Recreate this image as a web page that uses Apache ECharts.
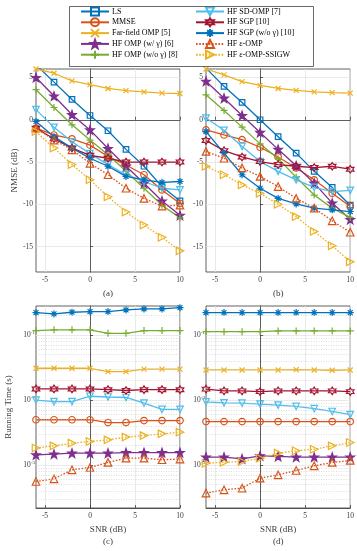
<!DOCTYPE html>
<html>
<head>
<meta charset="utf-8">
<script src="https://cdn.jsdelivr.net/npm/echarts@6/dist/echarts.min.js"></script>
<style>
html, body { margin: 0; padding: 0; background: #fff; }
#main { width: 357px; height: 551px; }
</style>
</head>
<body>
<div id="main"></div>
<script>
// SNR points (dB)
const snr = [-6, -4, -2, 0, 2, 4, 6, 8, 10];
const xTicks = [-5, 0, 5, 10];
const nmseTicks = [-15, -10, -5, 0, 5];
const timeTicks = [0.001, 0.01, 0.1];

// (a) NMSE (dB)
const lsA = [6.5, 4.45, 2.4, 0.5, -1.3, -3.5, -5.5, -7.9, -9.6];
const mmseA = [-1.0, -1.8, -2.25, -3.0, -4.35, -5.35, -6.5, -8.3, -9.9];
const farA = [6.0, 5.5, 4.6, 4.15, 3.7, 3.45, 3.3, 3.15, 3.1];
const ompGA = [5.0, 2.8, 0.6, -1.2, -3.4, -5.5, -7.5, -9.6, -11.3];
const ompA = [3.55, 1.45, -0.6, -2.4, -4.15, -6.1, -8.1, -10.1, -11.6];
const sdA = [1.2, -0.9, -2.6, -4.0, -5.3, -6.5, -7.3, -8.1, -8.3];
const sgpA = [-1.0, -2.25, -3.35, -4.2, -4.55, -5.0, -5.0, -5.0, -5.0];
const sgpNA = [-0.2, -2.0, -3.35, -4.55, -5.5, -6.7, -7.1, -7.4, -7.3];
const epsA = [-1.0, -2.4, -3.55, -5.15, -6.5, -8.1, -9.3, -10.2, -10.1];
const ssigwA = [-1.4, -3.35, -5.3, -7.1, -9.1, -10.9, -12.45, -13.9, -15.5];

// (b) NMSE (dB)
const lsB = [6.1, 3.95, 2.05, 0, -2.0, -3.95, -6.1, -8.0, -10.1];
const mmseB = [-1.2, -1.8, -2.35, -3.25, -4.4, -5.7, -7.1, -8.7, -10.25];
const farB = [6.0, 5.3, 4.5, 4.06, 3.7, 3.47, 3.3, 3.2, 3.15];
const ompGB = [4.55, 2.55, 0.5, -1.5, -3.5, -5.45, -7.5, -9.85, -11.8];
const ompB = [2.95, 1.1, -0.87, -2.85, -4.6, -6.8, -8.9, -10.45, -11.55];
const sdB = [0.2, -1.25, -3.15, -4.95, -6.1, -7.1, -8.0, -8.5, -8.35];
const sgpB = [-2.45, -3.65, -4.4, -4.95, -5.3, -5.5, -5.65, -5.5, -5.85];
const sgpNB = [-1.4, -3.95, -6.5, -8.1, -9.3, -9.95, -10.45, -10.65, -10.85];
const epsB = [-3.75, -4.55, -5.7, -6.7, -7.9, -9.3, -10.45, -11.95, -13.3];
const ssigwB = [-5.5, -6.5, -7.7, -8.7, -10.0, -11.45, -13.2, -14.9, -16.8];

// (c) running time (s)
const mmseC = [0.0050, 0.0050, 0.0050, 0.0050, 0.00452, 0.00452, 0.00485, 0.00485, 0.00485];
const farC = [0.031, 0.031, 0.031, 0.031, 0.0275, 0.0275, 0.030, 0.030, 0.030];
const ompGC = [0.00144, 0.00148, 0.00153, 0.00153, 0.00153, 0.00156, 0.00156, 0.00156, 0.00156];
const ompC = [0.118, 0.121, 0.121, 0.121, 0.107, 0.107, 0.118, 0.118, 0.118];
const sdC = [0.0100, 0.0095, 0.0095, 0.0115, 0.0112, 0.0110, 0.0090, 0.0072, 0.0072];
const sgpC = [0.0149, 0.0149, 0.0149, 0.0149, 0.0145, 0.0141, 0.0145, 0.0145, 0.0145];
const sgpNC = [0.223, 0.213, 0.226, 0.231, 0.231, 0.245, 0.254, 0.254, 0.266];
const epsC = [0.00056, 0.000615, 0.000847, 0.00092, 0.0011, 0.00128, 0.00128, 0.00121, 0.00124];
const ssigwC = [0.00183, 0.00198, 0.00218, 0.00231, 0.00245, 0.0027, 0.00285, 0.00303, 0.00322];

// (d) running time (s)
const mmseD = [0.00469, 0.00469, 0.00469, 0.00469, 0.00469, 0.00469, 0.00469, 0.00469, 0.00469];
const farD = [0.0292, 0.0292, 0.0292, 0.0292, 0.0292, 0.0295, 0.0292, 0.0289, 0.0292];
const ompGD = [0.00133, 0.00133, 0.00125, 0.00139, 0.00136, 0.00133, 0.00133, 0.00133, 0.00133];
const ompD = [0.1135, 0.1135, 0.1135, 0.1135, 0.1165, 0.1165, 0.1165, 0.1165, 0.1165];
const sdD = [0.0094, 0.0091, 0.0090, 0.0087, 0.0084, 0.0080, 0.0074, 0.0067, 0.0060];
const sgpD = [0.0148, 0.0139, 0.0139, 0.01355, 0.0139, 0.0139, 0.0139, 0.0139, 0.01355];
const sgpND = [0.223, 0.223, 0.223, 0.223, 0.223, 0.223, 0.223, 0.223, 0.223];
const epsD = [0.000371, 0.000417, 0.000443, 0.00063, 0.00071, 0.000826, 0.000975, 0.0011, 0.00118];
const ssigwD = [0.00107, 0.00111, 0.00114, 0.00128, 0.00153, 0.00166, 0.00176, 0.00198, 0.00223];

const legendLeft = ['LS', 'MMSE', 'Far-field OMP [5]', 'HF OMP (w/ γ) [6]', 'HF OMP (w/o γ) [8]'];
const legendRight = ['HF SD-OMP [7]', 'HF SGP [10]', 'HF SGP (w/o γ) [10]', 'HF ε-OMP', 'HF ε-OMP-SSIGW'];

const FONT = 'Liberation Serif';
const AX = '#3a3a3a';

// marker shapes
function starPath(n, rIn) {
    let d = '';
    for (let i = 0; i < 2 * n; i++) {
        const r = i % 2 ? rIn : 10;
        const a = Math.PI * i / n - Math.PI / 2;
        d += (i ? 'L' : 'M') + (10 + r * Math.cos(a)).toFixed(2) + ',' + (10 + r * Math.sin(a)).toFixed(2);
    }
    return 'path://' + d + 'Z';
}

const look = {
    'LS': { c: '#0072BD', sym: 'rect', size: 5.5 },
    'MMSE': { c: '#D95319', sym: 'circle', size: 6.5 },
    'Far-field OMP [5]': { c: '#EDB120', sym: 'path://M0,0L10,10M0,10L10,0', size: 5 },
    'HF OMP (w/ γ) [6]': { c: '#7E2F8E', sym: starPath(5, 4), size: 8.5, fill: true },
    'HF OMP (w/o γ) [8]': { c: '#77AC30', sym: 'path://M0,5L10,5M5,0L5,10', size: 7 },
    'HF SD-OMP [7]': { c: '#4DBEEE', sym: 'path://M0,0L10,0L5,9Z', size: 6.5 },
    'HF SGP [10]': { c: '#A2142F', sym: starPath(6, 5.8), size: 7.5 },
    'HF SGP (w/o γ) [10]': { c: '#0072BD', sym: 'path://M0,5L10,5M5,0L5,10M1.5,1.5L8.5,8.5M1.5,8.5L8.5,1.5', size: 7 },
    'HF ε-OMP': { c: '#D95319', sym: 'path://M5,0L10,9L0,9Z', size: 7.5, dot: true },
    'HF ε-OMP-SSIGW': { c: '#EDB120', sym: 'path://M0,0L9,5L0,10Z', size: 7.5, dot: true }
};

function mk(name, vals, g, isLog) {
    const s = look[name];
    return {
        type: 'line',
        name: name,
        xAxisIndex: g,
        yAxisIndex: g,
        data: vals.map((v, i) => [snr[i], isLog ? Math.log10(v) : v]),
        symbol: s.sym,
        symbolSize: s.size,
        showAllSymbol: true,
        clip: true,
        z: 3,
        lineStyle: { color: s.c, width: 1.3, type: s.dot ? [1.6, 1.6] : 'solid' },
        itemStyle: { color: s.fill ? s.c : 'rgba(255,255,255,0)', borderColor: s.c, borderWidth: 1.2 },
        emphasis: { disabled: true }
    };
}

const grids = [
    { left: 36, top: 69, width: 144, height: 203 },
    { left: 206, top: 69, width: 146, height: 203 },
    { left: 36, top: 306, width: 144, height: 202 },
    { left: 206, top: 306, width: 146, height: 202 }
].map(p => Object.assign({ show: true, borderColor: AX, borderWidth: 0.8, backgroundColor: '#fff', containLabel: false }, p));

const subNames = ['(a)', '(b)', 'SNR (dB)\n(c)', 'SNR (dB)\n(d)'];

const xAxes = grids.map((g, i) => ({
    type: 'value',
    gridIndex: i,
    min: -6,
    max: 10,
    name: subNames[i],
    nameLocation: 'middle',
    nameGap: 16,
    nameTextStyle: { fontFamily: FONT, fontSize: 9, color: AX, lineHeight: 12, verticalAlign: 'top' },
    axisLine: { show: true, lineStyle: { color: AX, width: 0.8 } },
    axisTick: { show: true, inside: true, length: 3, customValues: xTicks, lineStyle: { color: AX, width: 0.8 } },
    axisLabel: { customValues: xTicks, fontFamily: FONT, fontSize: 7.5, color: AX, margin: 4 },
    splitLine: { show: true, lineStyle: { color: '#e3e3e3', width: 0.8 } }
}));

const minT = -3.66, maxT = -0.55;
const yAxes = grids.map((g, i) => {
    const isLog = i >= 2;
    const ticks = isLog ? timeTicks.map(v => Math.log10(v)) : nmseTicks;
    return {
        type: 'value',
        gridIndex: i,
        min: isLog ? minT : -18,
        max: isLog ? maxT : 6,
        name: i === 0 ? 'NMSE (dB)' : (i === 2 ? 'Running Time (s)' : ''),
        nameLocation: 'middle',
        nameRotate: 90,
        nameGap: isLog ? 23 : 17,
        nameTextStyle: { fontFamily: FONT, fontSize: 9, color: AX },
        axisLine: { show: true, lineStyle: { color: AX, width: 0.8 } },
        axisTick: { show: true, inside: true, length: 3, customValues: ticks, lineStyle: { color: AX, width: 0.8 } },
        axisLabel: {
            customValues: ticks,
            fontFamily: FONT,
            fontSize: 7.5,
            color: AX,
            margin: isLog ? 1 : 3,
            formatter: isLog ? (v => '{b|10}{s|' + Math.round(v) + '}') : (v => String(v)),
            rich: {
                b: { fontFamily: FONT, fontSize: 7.5, color: AX },
                s: { fontFamily: FONT, fontSize: 5, color: AX, padding: [0, 0, 5, 0] }
            }
        },
        splitLine: { show: true, lineStyle: { color: '#e3e3e3', width: 0.8 } }
    };
});

// dotted minor grid for the log axes
const minorVals = [];
for (let k = -4; k <= -1; k++) {
    for (let m = 2; m <= 9; m++) {
        const v = Math.log10(m * Math.pow(10, k));
        if (v > minT && v < maxT) minorVals.push(v);
    }
}

const series = [];
[2, 3].forEach(g => {
    series.push({
        type: 'line', name: 'minor' + g, xAxisIndex: g, yAxisIndex: g, data: [], silent: true, z: 1,
        markLine: {
            silent: true, symbol: ['none', 'none'], label: { show: false },
            lineStyle: { color: '#c8c8c8', width: 0.6, type: [1, 1.5] },
            data: minorVals.map(v => ({ yAxis: v }))
        }
    });
});

const setA = [lsA, mmseA, farA, ompGA, ompA, sdA, sgpA, sgpNA, epsA, ssigwA];
const setB = [lsB, mmseB, farB, ompGB, ompB, sdB, sgpB, sgpNB, epsB, ssigwB];
const order = ['LS', 'MMSE', 'Far-field OMP [5]', 'HF OMP (w/ γ) [6]', 'HF OMP (w/o γ) [8]',
    'HF SD-OMP [7]', 'HF SGP [10]', 'HF SGP (w/o γ) [10]', 'HF ε-OMP', 'HF ε-OMP-SSIGW'];
order.forEach((n, i) => { series.push(mk(n, setA[i], 0, false)); });
order.forEach((n, i) => { series.push(mk(n, setB[i], 1, false)); });

const setC = [null, mmseC, farC, ompGC, ompC, sdC, sgpC, sgpNC, epsC, ssigwC];
const setD = [null, mmseD, farD, ompGD, ompD, sdD, sgpD, sgpND, epsD, ssigwD];
order.forEach((n, i) => { if (setC[i]) series.push(mk(n, setC[i], 2, true)); });
order.forEach((n, i) => { if (setD[i]) series.push(mk(n, setD[i], 3, true)); });

const legendBase = {
    orient: 'vertical', top: 6.5, itemWidth: 28, itemHeight: 10, itemGap: 0.8, padding: 0,
    selectedMode: false,
    textStyle: { fontFamily: FONT, fontSize: 8, color: '#000', padding: [0, 0, 0, -2] }
};

const chart = echarts.init(document.getElementById('main'), null, { renderer: 'canvas' });
chart.setOption({
    animation: false,
    backgroundColor: '#fff',
    grid: grids,
    xAxis: xAxes,
    yAxis: yAxes,
    legend: [
        Object.assign({}, legendBase, { left: 80, data: legendLeft }),
        Object.assign({}, legendBase, { left: 195, data: legendRight })
    ],
    graphic: [{
        type: 'rect', left: 67, top: 4, z: 100,
        shape: { width: 244, height: 60 },
        style: { fill: 'none', stroke: '#444', lineWidth: 0.8 }
    }],
    series: series
});
</script>
</body>
</html>
